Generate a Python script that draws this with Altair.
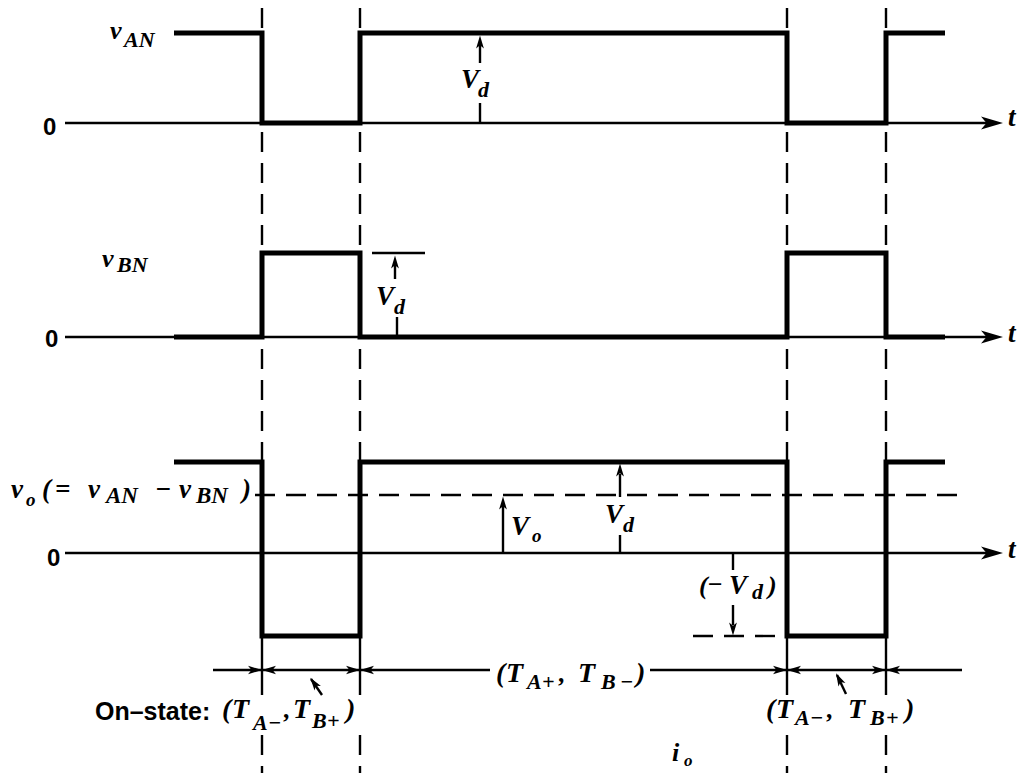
import altair as alt
import pandas as pd

# ---- time instants (switching edges) and waveform levels (page-vertical units) ----
EDGES = [262, 360, 787, 886]
WAVE_T = [174, 262, 262, 360, 360, 787, 787, 886, 886, 945]
VAN_LEVEL = [33, 33, 123, 123, 33, 33, 123, 123, 33, 33]
VBN_LEVEL = [337, 337, 253, 253, 337, 337, 253, 253, 337, 337]
VO_LEVEL = [462, 462, 636, 636, 462, 462, 636, 636, 462, 462]
ZEROS = [123, 337, 553]
AXIS_START, AXIS_END = 65, 992
VO_AVG = 495
VO_LOW = 636

# thin solid guide segments: (x, y, x2, y2)
THIN_SEGS = (
    [(AXIS_START, z, AXIS_END, z) for z in ZEROS]
    + [(372, 253, 425, 253),
       (480, 45, 480, 63), (480, 103, 480, 123),
       (395, 265, 395, 279), (397, 317, 397, 337),
       (503, 505, 503, 553),
       (620, 474, 620, 497), (620, 535, 620, 553),
       (733, 553, 733, 570), (733, 605, 733, 625),
       (213, 670, 490, 670), (650, 670, 962, 670),
       (322, 695, 311, 679), (846, 694, 837, 675)]
    + [(e, 646, e, 695) for e in EDGES]
)
# dashed guide segments
DASH_SEGS = (
    [(e, 8, e, 646) for e in EDGES]
    + [(e, 735, e, 781) for e in EDGES]
    + [(255, VO_AVG, 960, VO_AVG), (693, VO_LOW, 778, VO_LOW)]
)
# arrowheads: (x, y, angle, size)
HEADS = (
    [(AXIS_END, z, 0, 484) for z in ZEROS]
    + [(480, 42, 270, 169), (395, 262, 270, 169), (503, 503, 270, 169),
       (620, 470, 270, 169), (733, 629, 90, 169),
       (314, 683, 235, 169), (839, 679, 243, 169)]
    + [(e - 7, 670, 0, 196) for e in EDGES]
    + [(e + 7, 670, 180, 196) for e in EDGES]
)
# math (italic serif) text pieces: (text, x, baseline, size)
MATH_TEXT = [
    ("v", 110, 39, 26), ("AN", 124, 47, 22),
    ("v", 102, 267, 26), ("BN", 117, 272, 22),
    ("V", 461, 88, 27), ("d", 478, 97, 22),
    ("V", 376, 305, 27), ("d", 394, 314, 22),
    ("v", 11, 498, 27), ("o", 26, 506, 19), ("(", 42, 498, 27), ("=", 55, 498, 27),
    ("v", 88, 498, 27), ("AN", 106, 503, 23), ("−", 155, 498, 27),
    ("v", 179, 498, 27), ("BN", 196, 503, 23), (")", 242, 498, 27),
    ("V", 511, 535, 27), ("o", 532, 542, 19),
    ("V", 605, 523, 27), ("d", 623, 532, 22),
    ("(", 699, 594, 26), ("−", 707, 593, 26), ("V", 729, 594, 27), ("d", 752, 599, 22), (")", 768, 594, 26),
    ("(", 222, 718, 28), ("T", 232, 718, 28), ("A", 253, 730, 22), ("−", 268, 730, 22),
    (",", 284, 718, 26), ("T", 293, 718, 28), ("B", 312, 728, 22), ("+", 327, 728, 22), (")", 346, 718, 28),
    ("(", 496, 682, 28), ("T", 506, 682, 28), ("A", 527, 689, 22), ("+", 542, 689, 22),
    (",", 559, 682, 26), ("T", 578, 682, 28), ("B", 601, 689, 22), ("−", 620, 689, 22), (")", 636, 682, 28),
    ("(", 766, 718, 28), ("T", 776, 718, 28), ("A", 795, 725, 22), ("−", 810, 725, 22),
    (",", 827, 718, 26), ("T", 848, 718, 28), ("B", 870, 725, 22), ("+", 886, 725, 22), (")", 905, 718, 28),
    ("i", 672, 761, 26), ("o", 684, 766, 17),
    ("t", 1008, 126, 27), ("t", 1008, 342, 27), ("t", 1008, 558, 27),
]
# sans bold text pieces
SANS_TEXT = [
    ("0", 43, 135, 24), ("0", 45, 347, 24), ("0", 47, 566, 24),
    ("On–state:", 95, 720, 25),
]

# ---- tables ----
wave_rows = []
for name, levels in [("vAN", VAN_LEVEL), ("vBN", VBN_LEVEL), ("vo", VO_LEVEL)]:
    for i, (t, v) in enumerate(zip(WAVE_T, levels)):
        wave_rows.append({"series": name, "i": i, "x": t, "y": v})
waves = pd.DataFrame(wave_rows)
thin = pd.DataFrame(THIN_SEGS, columns=["x", "y", "x2", "y2"])
dash = pd.DataFrame(DASH_SEGS, columns=["x", "y", "x2", "y2"])
heads = pd.DataFrame(HEADS, columns=["x", "y", "angle", "size"])
math = pd.DataFrame(MATH_TEXT, columns=["text", "x", "y", "size"])
sans = pd.DataFrame(SANS_TEXT, columns=["text", "x", "y", "size"])

W, H = 1012, 765
xs = alt.Scale(domain=[8, 8 + W], nice=False, zero=False)
ys = alt.Scale(domain=[8, 8 + H], nice=False, zero=False, reverse=True)
X = alt.X("x:Q", scale=xs, axis=None)
Y = alt.Y("y:Q", scale=ys, axis=None)

thin_l = alt.Chart(thin).mark_rule(color="black", strokeWidth=2.4).encode(
    x=X, y=Y, x2="x2:Q", y2="y2:Q")
dash_l = alt.Chart(dash).mark_rule(color="black", strokeWidth=2.4, strokeDash=[20, 11]).encode(
    x=X, y=Y, x2="x2:Q", y2="y2:Q")
wave_l = alt.Chart(waves).mark_line(color="black", strokeWidth=5, strokeJoin="miter", strokeCap="butt").encode(
    x=X, y=Y, detail="series:N", order="i:Q")
ARROW = "M1,0L-1,-0.6L-0.5,0L-1,0.6Z"
head_l = alt.Chart(heads).mark_point(shape=ARROW, filled=True, color="black", opacity=1).encode(
    x=X, y=Y, angle=alt.Angle("angle:Q", scale=None), size=alt.Size("size:Q", scale=None))
math_l = alt.Chart(math).mark_text(
    align="left", baseline="alphabetic", font="Liberation Serif", fontStyle="italic",
    fontWeight="bold", color="black").encode(
    x=X, y=Y, text="text:N", size=alt.Size("size:Q", scale=None))
sans_l = alt.Chart(sans).mark_text(
    align="left", baseline="alphabetic", font="Liberation Sans", fontWeight="bold",
    color="black").encode(
    x=X, y=Y, text="text:N", size=alt.Size("size:Q", scale=None))

chart = alt.layer(dash_l, thin_l, wave_l, head_l, math_l, sans_l).properties(
    width=W, height=H, padding=0, autosize="none"
).configure_view(strokeWidth=0)

chart.save("out.html", embed_options={"renderer": "svg", "actions": False})
